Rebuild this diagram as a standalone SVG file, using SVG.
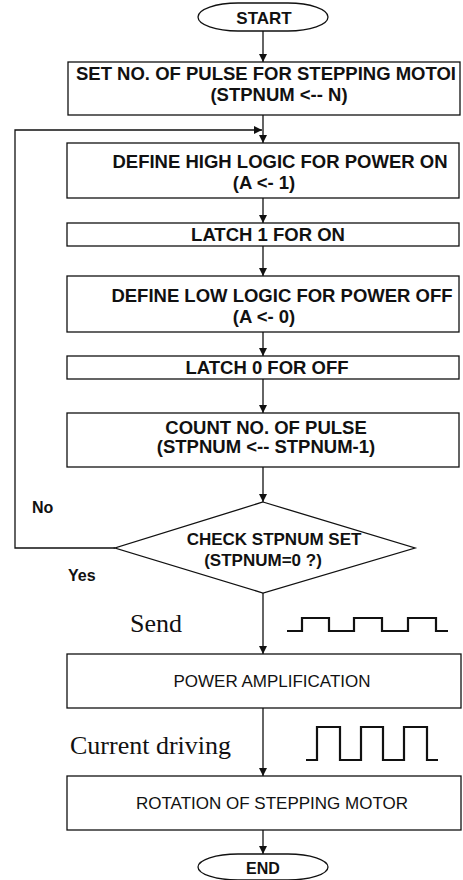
<svg xmlns="http://www.w3.org/2000/svg" width="463" height="880" viewBox="0 0 463 880">
<style>
.box{fill:#fff;stroke:#111;stroke-width:1.3}
.t{font-family:"Liberation Sans",Arial,sans-serif;font-size:18.5px;font-weight:bold;fill:#111;text-anchor:middle}
.td{font-family:"Liberation Sans",Arial,sans-serif;font-size:17px;font-weight:bold;fill:#111;text-anchor:middle}
.tr{font-family:"Liberation Sans",Arial,sans-serif;font-size:17px;fill:#111;text-anchor:middle}
.lbl{font-family:"Liberation Sans",Arial,sans-serif;font-size:16px;font-weight:bold;fill:#111}
.serif{font-family:"Liberation Serif","Times New Roman",serif;font-size:26px;fill:#111}
.ln{fill:none;stroke:#111;stroke-width:1.3}
.pulse{fill:none;stroke:#111;stroke-width:2.2}
</style>
<defs>
<marker id="ah" viewBox="0 0 10 10" refX="10" refY="5" markerWidth="8" markerHeight="8" markerUnits="userSpaceOnUse" orient="auto">
<path d="M0,0 L10,5 L0,10 z" fill="#111"/>
</marker>
</defs>
<rect width="463" height="880" fill="#fff"/>
<g id="connectors">
<line class="ln" x1="263" y1="31" x2="263" y2="62" marker-end="url(#ah)"/>
<line class="ln" x1="263" y1="115" x2="263" y2="143" marker-end="url(#ah)"/>
<polyline class="ln" points="115,548 15,548 15,130 262,130" marker-end="url(#ah)"/>
<line class="ln" x1="263" y1="198" x2="263" y2="223" marker-end="url(#ah)"/>
<line class="ln" x1="263" y1="246" x2="263" y2="276" marker-end="url(#ah)"/>
<line class="ln" x1="263" y1="332" x2="263" y2="356" marker-end="url(#ah)"/>
<line class="ln" x1="263" y1="379" x2="263" y2="413" marker-end="url(#ah)"/>
<line class="ln" x1="263" y1="467" x2="263" y2="502" marker-end="url(#ah)"/>
<line class="ln" x1="263" y1="593" x2="263" y2="654" marker-end="url(#ah)"/>
<line class="ln" x1="263" y1="708" x2="263" y2="776" marker-end="url(#ah)"/>
<line class="ln" x1="263" y1="830" x2="263" y2="854" marker-end="url(#ah)"/>
</g>
<g id="start">
<rect class="box" x="198" y="3" width="130" height="28" rx="40" ry="14"/>
<text class="t" x="264" y="24" style="font-size:17px">START</text>
</g>
<g id="set-pulse">
<rect class="box" x="68" y="62" width="392" height="53"/>
<text class="t" x="266" y="80">SET NO. OF PULSE FOR STEPPING MOTOI</text>
<text class="t" x="279" y="101">(STPNUM &lt;-- N)</text>
</g>
<g id="define-high">
<rect class="box" x="67" y="143" width="392" height="55"/>
<text class="t" x="280" y="168">DEFINE HIGH LOGIC FOR POWER ON</text>
<text class="t" x="264" y="189">(A &lt;- 1)</text>
</g>
<g id="latch1">
<rect class="box" x="67" y="223" width="392" height="23"/>
<text class="t" x="268" y="241">LATCH 1 FOR ON</text>
</g>
<g id="define-low">
<rect class="box" x="67" y="276" width="392" height="56"/>
<text class="t" x="282" y="302">DEFINE LOW LOGIC FOR POWER OFF</text>
<text class="t" x="264" y="323">(A &lt;- 0)</text>
</g>
<g id="latch0">
<rect class="box" x="67" y="356" width="392" height="23"/>
<text class="t" x="267" y="374">LATCH 0 FOR OFF</text>
</g>
<g id="count">
<rect class="box" x="67" y="413" width="392" height="54"/>
<text class="t" x="266" y="434">COUNT NO. OF PULSE</text>
<text class="t" x="266" y="453">(STPNUM &lt;-- STPNUM-1)</text>
</g>
<g id="check">
<polygon class="box" points="263,502 415,548 263,593 115,548"/>
<text class="td" x="274" y="545">CHECK STPNUM SET</text>
<text class="td" x="263" y="566">(STPNUM=0 ?)</text>
</g>
<g id="labels">
<text class="lbl" x="32" y="513">No</text>
<text class="lbl" x="68" y="581">Yes</text>
<text class="serif" x="130" y="632">Send</text>
<text class="serif" x="70" y="754">Current driving</text>
<polyline class="pulse" points="287,631 302,631 302,618 329,618 329,631 354,631 354,618 382,618 382,631 408,631 408,618 436,618 436,631 448,631"/>
<polyline class="pulse" points="306,760 317,760 317,727 340,727 340,760 361,760 361,727 383,727 383,760 404,760 404,727 427,727 427,760 438,760"/>
</g>
<g id="power-amp">
<rect class="box" x="67" y="654" width="394" height="54"/>
<text class="tr" x="272" y="687">POWER AMPLIFICATION</text>
</g>
<g id="rotation">
<rect class="box" x="67" y="776" width="394" height="54"/>
<text class="tr" x="272" y="809">ROTATION OF STEPPING MOTOR</text>
</g>
<g id="end">
<rect class="box" x="198" y="854" width="130" height="26" rx="40" ry="13"/>
<text class="t" x="263" y="874" style="font-size:16px">END</text>
</g>
</svg>
